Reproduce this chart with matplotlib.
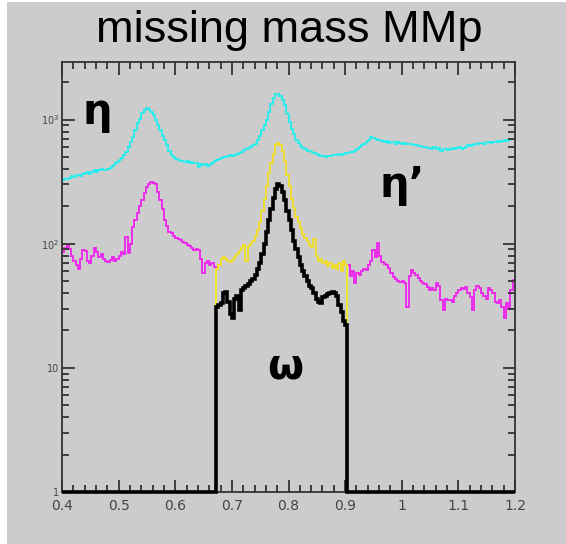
import numpy as np
import matplotlib
matplotlib.use("Agg")
import matplotlib.pyplot as plt
from matplotlib.patches import Rectangle
from matplotlib.ticker import FixedLocator, MultipleLocator, LogLocator, NullFormatter

# binning: 200 bins of 0.004 between 0.4 and 1.2, cut window 0.672-0.904
x_lo, x_hi, n_bins = 0.4, 1.2, 200
win_lo, win_hi = 68, 126   # bin index range of the omega window

# all events (cyan)
cyan = [325, 330, 335, 340, 350, 345, 355, 360, 350, 365,
        370, 375, 365, 380, 390, 380, 395, 400, 390, 395,
        400, 410, 420, 440, 455, 470, 490, 515, 550, 600,
        660, 720, 820, 930, 1020, 1120, 1200, 1240, 1220, 1160,
        1080, 990, 900, 820, 740, 680, 620, 560, 520, 495,
        480, 470, 465, 460, 455, 460, 450, 455, 450, 445,
        415, 435, 430, 440, 425, 430, 445, 460, 470, 480,
        490, 500, 495, 510, 515, 505, 520, 530, 540, 550,
        565, 575, 590, 600, 620, 640, 680, 740, 820, 900,
        990, 1150, 1330, 1480, 1600, 1620, 1550, 1430, 1300, 1100,
        950, 840, 760, 690, 650, 610, 590, 575, 560, 555,
        550, 540, 530, 520, 510, 505, 500, 510, 505, 515,
        515, 520, 525, 520, 530, 535, 540, 545, 550, 560,
        575, 600, 620, 640, 660, 690, 720, 715, 700, 690,
        680, 670, 660, 675, 650, 660, 665, 640, 655, 650,
        640, 650, 635, 640, 630, 620, 625, 610, 615, 600,
        605, 590, 595, 580, 600, 575, 590, 560, 580, 575,
        570, 580, 590, 575, 585, 600, 580, 595, 605, 620,
        610, 625, 640, 630, 645, 650, 635, 655, 660, 650,
        665, 660, 670, 655, 675, 680, 670, 690, 695, 700]

# after cuts (magenta), the window part is redrawn in yellow
magenta = [85, 92, 97, 90, 80, 73, 68, 63, 75, 89,
           88, 72, 70, 80, 92, 85, 78, 82, 76, 72,
           71, 74, 78, 73, 75, 80, 85, 82, 113, 84,
           100, 136, 155, 177, 200, 225, 255, 285, 300, 315,
           310, 300, 260, 225, 190, 155, 140, 125, 121, 115,
           112, 110, 108, 104, 101, 98, 95, 92, 89, 90,
           89, 75, 58, 70, 72, 68, 70, 65, 63, 68,
           75, 78, 76, 72, 71, 74, 78, 82, 88, 92,
           97, 73, 96, 100, 105, 115, 128, 150, 185, 230,
           290, 370, 450, 530, 620, 650, 620, 560, 460, 360,
           290, 230, 195, 165, 150, 135, 120, 112, 105, 98,
           94, 110, 80, 73, 75, 70, 72, 66, 70, 64,
           68, 62, 70, 60, 72, 68, 68, 55, 60, 48,
           58, 56, 60, 62, 61, 68, 73, 89, 78, 101,
           80, 71, 69, 67, 64, 58, 54, 52, 50, 49,
           50, 48, 31, 55, 61, 58, 56, 53, 50, 48,
           47, 45, 42, 44, 42, 48, 46, 35, 29, 36,
           35, 35, 34, 38, 40, 42, 44, 43, 45, 40,
           37, 29, 42, 46, 44, 40, 38, 36, 44, 42,
           40, 34, 33, 35, 31, 25, 33, 30, 42, 51]

# omega candidates inside the window (black)
black = [31, 32, 33, 40, 41, 34, 27, 25, 36, 38,
         29, 42, 44, 46, 47, 50, 52, 56, 62, 70,
         82, 100, 125, 155, 190, 235, 275, 300, 290, 260,
         225, 185, 155, 128, 106, 90, 78, 68, 60, 55,
         50, 46, 44, 40, 36, 34, 33, 37, 38, 39,
         40, 41, 40, 38, 32, 28, 24, 22]

x_major = [0.4, 0.5, 0.6, 0.7, 0.8, 0.9, 1.0, 1.1, 1.2]
x_labels = ["0.4", "0.5", "0.6", "0.7", "0.8", "0.9", "1", "1.1", "1.2"]
y_major = [1, 10, 100, 1000]
y_labels = ["1", "10", "$10^{2}$", "$10^{3}$"]

bg = "#cccccc"
edges = np.linspace(x_lo, x_hi, n_bins + 1)
ymin, ymax = 1, 2910

fig = plt.figure(figsize=(5.66, 5.44), dpi=100, facecolor="white")
fig.patches.append(Rectangle((7 / 566, 0), 1, 1 - 2 / 544, transform=fig.transFigure,
                             facecolor=bg, edgecolor="none", zorder=-10))
ax = fig.add_axes([62 / 566, 1 - 492 / 544, (515 - 62) / 566, (492 - 62) / 544])
ax.set_facecolor(bg)
ax.set_yscale("log")
ax.set_xlim(x_lo, x_hi)
ax.set_ylim(ymin, ymax)

ax.stairs(cyan, edges, color="#22eeee", lw=1.3, baseline=None)
ax.stairs(magenta, edges, color="#ee22ee", lw=1.3, baseline=None)
ax.stairs(magenta[win_lo:win_hi], edges[win_lo:win_hi + 1], color="#eeee22", lw=1.3,
          baseline=ymin)
black_full = np.zeros(n_bins)
black_full[win_lo:win_hi] = black
ax.stairs(np.clip(black_full, ymin, None), edges, color="black", lw=2.6,
          baseline=ymin, clip_on=False, zorder=5)

# axes styling, ROOT like
for s in ax.spines.values():
    s.set_color("#333333")
    s.set_linewidth(1.3)
ax.xaxis.set_major_locator(FixedLocator(x_major))
ax.set_xticklabels(x_labels)
ax.xaxis.set_minor_locator(MultipleLocator(0.02))
ax.yaxis.set_major_locator(FixedLocator(y_major))
ax.set_yticklabels(y_labels)
ax.yaxis.set_minor_locator(LogLocator(base=10, subs=np.arange(2, 10)))
ax.yaxis.set_minor_formatter(NullFormatter())
ax.tick_params(which="both", direction="in", top=True, right=True, color="#333333", width=1.3)
ax.tick_params(which="major", length=9)
ax.tick_params(which="minor", length=5)
ax.tick_params(axis="x", labelsize=10, labelcolor="#444444", pad=5)
ax.tick_params(axis="y", labelsize=7, labelcolor="#444444", pad=2)

fig.text(289.5 / 566, 1 - 42 / 544, "missing mass MMp", family="Liberation Sans",
         fontsize=32.5, ha="center", va="baseline", color="black")

ax.text(0.462, 10 ** 3.06, "η", fontsize=30, fontweight="bold", ha="center", va="center")
ax.text(1.0, 10 ** 2.47, "η’", fontsize=30, fontweight="bold", ha="center", va="center")
ax.text(0.794, 10 ** 1.01, "ω", fontsize=30, fontweight="bold", ha="center", va="center")

fig.savefig("out.png", dpi=100, facecolor=fig.get_facecolor())
